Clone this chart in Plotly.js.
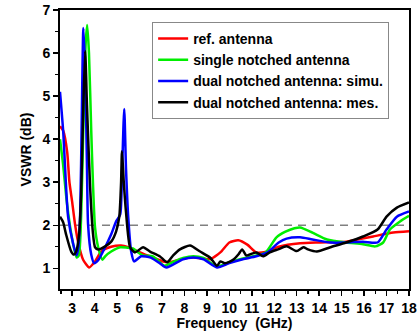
<!DOCTYPE html>
<html>
<head>
<meta charset="utf-8">
<script src="https://cdn.plot.ly/plotly-3.0.1.min.js"></script>
<style>html,body{margin:0;padding:0;background:#fff;}#chart{width:417px;height:331px;}</style>
</head>
<body>
<div id="chart"></div>
<script>
// Reference antenna
const refX = [2.46, 2.6, 2.78, 2.88, 3.0, 3.13, 3.27, 3.49, 3.76, 4.02, 4.3, 4.74, 5.18, 5.5, 5.8, 6.2, 6.47, 7.05, 7.4, 7.9, 8.4, 8.9, 9.14, 9.6, 10.0, 10.4, 10.8, 11.2, 11.6, 12.2, 13.15, 14.0, 15.2, 15.8, 16.4, 17.3, 18.0];
const refY = [4.3, 4.2, 3.7, 3.0, 2.55, 2.02, 1.6, 1.2, 1.02, 1.16, 1.39, 1.5, 1.53, 1.49, 1.42, 1.33, 1.28, 1.16, 1.15, 1.22, 1.25, 1.22, 1.21, 1.37, 1.6, 1.65, 1.55, 1.37, 1.38, 1.5, 1.58, 1.6, 1.62, 1.68, 1.74, 1.83, 1.86];

// Single notched antenna
const singleX = [2.46, 2.6, 2.75, 2.9, 3.05, 3.2, 3.3, 3.4, 3.5, 3.6, 3.67, 3.75, 3.85, 3.93, 4.02, 4.16, 4.35, 4.47, 4.74, 5.14, 5.45, 5.7, 6.15, 6.6, 7.1, 7.5, 7.94, 8.4, 8.85, 9.45, 10.0, 10.6, 11.2, 11.6, 12.1, 12.5, 12.9, 13.15, 13.7, 14.35, 15.2, 15.95, 16.5, 16.85, 17.15, 17.6, 18.0];
const singleY = [4.0, 3.4, 2.6, 2.0, 1.55, 1.25, 1.3, 2.2, 4.3, 6.2, 6.65, 6.0, 4.2, 2.95, 1.95, 1.49, 1.2, 1.28, 1.39, 1.49, 1.48, 1.46, 1.3, 1.28, 1.06, 1.15, 1.24, 1.28, 1.24, 1.04, 1.14, 1.23, 1.3, 1.36, 1.72, 1.85, 1.93, 1.95, 1.83, 1.67, 1.6, 1.56, 1.51, 1.6, 1.9, 2.09, 2.22];

// Dual notched antenna: simulation
const simuX = [2.46, 2.6, 2.82, 3.05, 3.2, 3.28, 3.36, 3.43, 3.5, 3.58, 3.66, 3.71, 3.85, 3.98, 4.16, 4.47, 4.74, 4.96, 5.14, 5.22, 5.32, 5.4, 5.5, 5.63, 5.76, 6.07, 6.5, 6.9, 7.2, 7.94, 8.4, 8.85, 9.45, 10.0, 10.6, 11.2, 11.7, 12.2, 12.55, 13.15, 13.7, 14.5, 15.2, 15.95, 16.6, 17.0, 17.46, 18.0];
const simuY = [5.1, 4.2, 2.2, 1.56, 1.3, 1.5, 2.3, 4.5, 6.58, 5.6, 3.4, 2.02, 1.32, 1.12, 1.19, 1.49, 1.79, 2.09, 2.25, 3.2, 4.7, 3.3, 2.18, 1.39, 1.16, 1.28, 1.25, 1.12, 1.02, 1.21, 1.25, 1.21, 1.02, 1.12, 1.21, 1.28, 1.37, 1.6, 1.69, 1.72, 1.67, 1.6, 1.6, 1.62, 1.6, 1.9, 2.2, 2.32];

// Dual notched antenna: measurement
const mesX = [2.46, 2.6, 2.73, 2.96, 3.08, 3.18, 3.31, 3.4, 3.5, 3.58, 3.66, 3.8, 3.93, 4.02, 4.16, 4.47, 4.74, 4.96, 5.1, 5.18, 5.22, 5.3, 5.4, 5.58, 5.8, 6.16, 6.47, 6.9, 7.23, 7.5, 7.8, 8.25, 8.7, 9.14, 9.45, 9.6, 9.8, 10.0, 10.2, 10.4, 10.57, 10.75, 10.9, 11.2, 11.5, 11.8, 12.17, 12.55, 13.0, 13.3, 13.5, 13.9, 14.5, 15.2, 15.95, 16.6, 17.0, 17.46, 18.0];
const mesY = [2.2, 2.07, 1.79, 1.39, 1.32, 1.39, 1.79, 2.7, 4.8, 6.05, 4.8, 2.9, 1.8, 1.49, 1.44, 1.51, 1.62, 1.86, 2.2, 3.0, 3.72, 3.0, 2.3, 1.49, 1.37, 1.49, 1.39, 1.28, 1.14, 1.3, 1.44, 1.53, 1.39, 1.25, 1.06, 1.16, 1.12, 1.15, 1.21, 1.32, 1.44, 1.3, 1.32, 1.37, 1.28, 1.37, 1.44, 1.51, 1.4, 1.49, 1.44, 1.39, 1.49, 1.6, 1.74, 1.9, 2.2, 2.41, 2.53];

const seriesNames = ["ref. antenna", "single notched antenna", "dual notched antenna: simu.", "dual notched antenna: mes."];
const seriesColors = ["#ff0000", "#00ee00", "#0000ff", "#000000"];
const xs = [refX, singleX, simuX, mesX];
const ys = [refY, singleY, simuY, mesY];

const traces = xs.map((x, i) => ({
  x: x, y: ys[i], type: "scatter", mode: "lines",
  name: seriesNames[i],
  line: {color: seriesColors[i], width: 2.5, shape: "spline", smoothing: 0.6}
}));

const fontFam = "Liberation Sans, Arial, sans-serif";
const axisCommon = {
  showline: true, linecolor: "#000", linewidth: 2, mirror: true,
  ticks: "outside", ticklen: 5, tickwidth: 1.5, tickcolor: "#000",
  showgrid: false, zeroline: false,
  tickfont: {family: fontFam, size: 14, color: "#000", weight: "bold"}
};

const layout = {
  width: 417, height: 331,
  margin: {l: 60, r: 8, t: 10, b: 42},
  paper_bgcolor: "#fff", plot_bgcolor: "#fff",
  showlegend: true,
  legend: {
    x: 0.264, y: 0.957, xanchor: "left", yanchor: "top",
    bgcolor: "#fff", bordercolor: "#888", borderwidth: 1,
    font: {family: fontFam, size: 14, color: "#000", weight: "bold"},
    tracegroupgap: 0
  },
  xaxis: Object.assign({}, axisCommon, {
    range: [2.46, 18], dtick: 1, tick0: 0,
    minor: {dtick: 0.5, ticks: "outside", ticklen: 3, tickcolor: "#000", tickwidth: 1.2},
    title: {text: "Frequency  (GHz)", standoff: 2, font: {family: fontFam, size: 14, color: "#000", weight: "bold"}}
  }),
  yaxis: Object.assign({}, axisCommon, {
    range: [0.52, 7], dtick: 1, tick0: 0,
    minor: {dtick: 0.5, ticks: "outside", ticklen: 3, tickcolor: "#000", tickwidth: 1.2},
    title: {text: "VSWR (dB)", standoff: 8, font: {family: fontFam, size: 14, color: "#000", weight: "bold"}}
  }),
  shapes: [{
    type: "line", xref: "paper", yref: "y", x0: 0, x1: 1, y0: 2, y1: 2,
    line: {color: "#808080", width: 1.5, dash: "8px,6px"}, layer: "below"
  }]
};

Plotly.newPlot("chart", traces, layout, {displayModeBar: false, staticPlot: true});
</script>
</body>
</html>
